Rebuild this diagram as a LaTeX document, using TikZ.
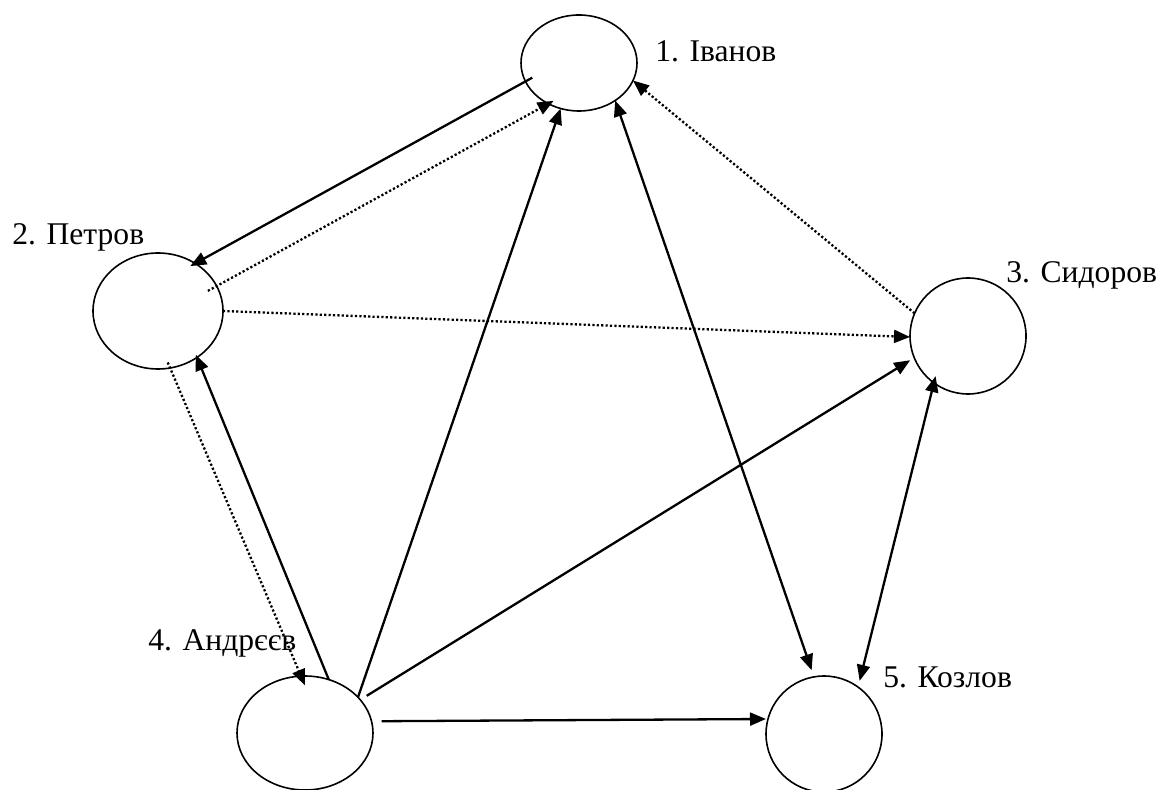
\documentclass[tikz,border=0pt]{standalone}
\usepackage{fontspec}
\setmainfont{Liberation Serif}
\usepackage{tikz}
\usetikzlibrary{shapes,arrows,arrows.meta,calc,positioning}
\tikzset{
	>={Triangle[length=8pt,width=6.5pt]},
	% Specifications for style of nodes:
	emp/.style = {ellipse, draw=black, line width=0.8pt,
	inner sep=0pt, outer sep=0pt},
	lbl/.style = {anchor=base west, inner sep=0pt,
	font=\fontsize{15.8pt}{19pt}\selectfont},
	% Specifications for style of connectors:
	arr/.style = {line width=1.15pt},
	darr/.style = {line width=1.15pt, dash pattern=on 1.1pt off 1.1pt},
}

\begin{document}
\begin{tikzpicture}[x=0.5pt, y=-0.5pt]
	\useasboundingbox (0,0) rectangle (1159,790);
		% draw people
		\node (ivanov)[emp, minimum width=58pt, minimum height=48pt] at (579,63) {};
		\node (petrov)[emp, minimum width=65pt, minimum height=58pt] at (158,311) {};
		\node (sydorov)[emp, minimum width=58pt, minimum height=58pt] at (968,336) {};
		\node (andreev)[emp, minimum width=68pt, minimum height=57pt] at (305,733) {};
		\node (kozlov)[emp, minimum width=58pt, minimum height=58pt] at (824,734) {};
		% names
		\node (ivanovlbl)[lbl] at (655,62) {1. Іванов};
		\node (petrovlbl)[lbl] at (12,245) {2. Петров};
		\node (sydorovlbl)[lbl] at (1006,283) {3. Сидоров};
		\node (andreevlbl)[lbl] at (148,650) {4. Андрєєв};
		\node (kozlovlbl)[lbl] at (883,687) {5. Козлов};
		% draw arrows between nodes
		\draw[arr,->,shorten <=-3.9pt,shorten >=-2.8pt](ivanov.199) -- (petrov.52);
		\draw[darr,->,shorten <=-5pt,shorten >=-3pt](petrov.23) -- (ivanov.233);
		\draw[darr,->](petrov.0) -- (sydorov.181);
		\draw[darr,->](sydorov.157) -- (ivanov.342);
		\draw[darr,->,shorten <=-3pt,shorten >=-5pt](petrov.282) -- (andreev.94);
		\draw[arr,->,shorten >=-1.5pt](andreev.66) -- (petrov.310);
		\draw[arr,->](andreev.34) -- (ivanov.248);
		\draw[arr,->,shorten <=3.8pt,shorten >=2.4pt](andreev.31) -- (sydorov.202);
		\draw[arr,->,shorten <=5pt,shorten >=1pt](andreev.10) -- (kozlov.165);
		\draw[arr,<->,shorten >=3.5pt](ivanov.314) -- (kozlov.100);
		\draw[arr,<->,shorten <=-3.5pt,shorten >=3.2pt](sydorov.234) -- (kozlov.54);
	\end{tikzpicture}
\end{document}
